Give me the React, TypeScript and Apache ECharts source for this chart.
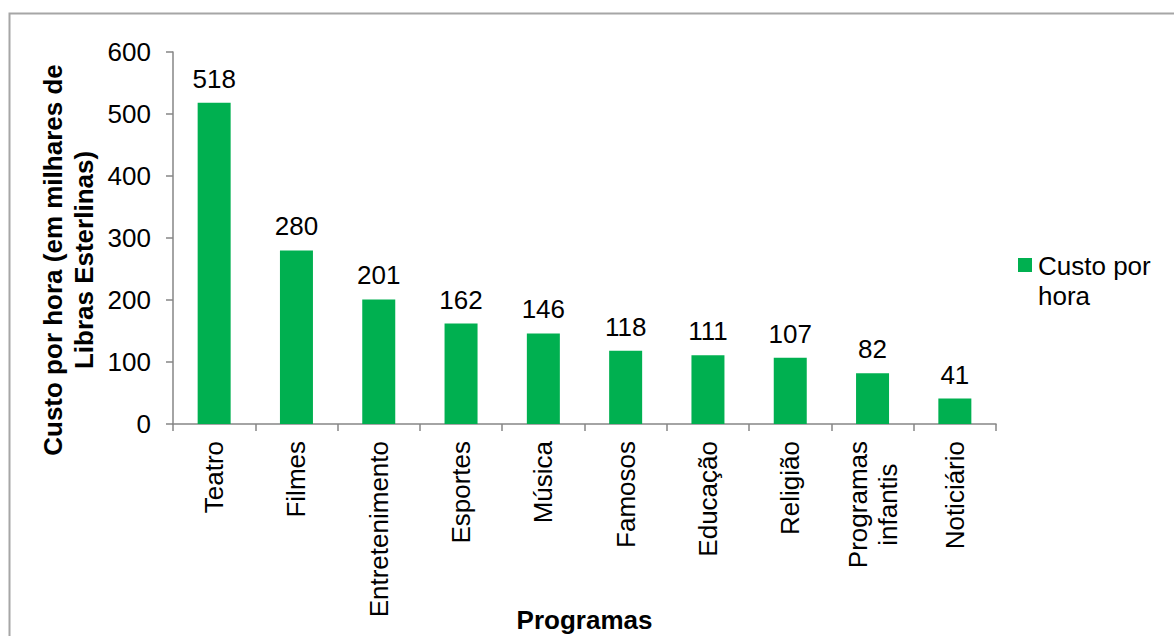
import React, { useEffect, useRef } from "react";
import * as echarts from "echarts";

const FONT = "'Liberation Sans', Arial, Helvetica, sans-serif";

const categories = [
  "Teatro",
  "Filmes",
  "Entretenimento",
  "Esportes",
  "Música",
  "Famosos",
  "Educação",
  "Religião",
  "Programas\ninfantis",
  "Noticiário",
];
const values = [518, 280, 201, 162, 146, 118, 111, 107, 82, 41];
const seriesName = "Custo por hora";
const legendLines = ["Custo por", "hora"];
const yTitle = ["Custo por hora (em milhares de", "Libras Esterlinas)"];
const xTitle = "Programas";

const GREEN = "#00b050";
const AXIS = "#868686";
const W = 1174;
const H = 636;

export default function App() {
  const ref = useRef<HTMLDivElement>(null);
  useEffect(() => {
    document.body.style.margin = "0";
    const chart = echarts.init(ref.current as HTMLDivElement, null, {
      renderer: "svg",
      width: W,
      height: H,
    });
    chart.setOption({
      animation: false,
      backgroundColor: "#ffffff",
      textStyle: { fontFamily: FONT },
      grid: {
        left: 173,
        right: 178,
        top: 52,
        bottom: 212,
        containLabel: false,
        outerBoundsMode: "none",
      },
      xAxis: {
        type: "category",
        data: categories,
        axisLine: { show: true, lineStyle: { color: AXIS, width: 1.5 } },
        axisTick: { show: true, length: 7, lineStyle: { color: AXIS, width: 1.5 } },
        axisLabel: {
          interval: 0,
          rotate: 90,
          margin: 17,
          fontSize: 26,
          lineHeight: 30,
          color: "#000",
          fontFamily: FONT,
          formatter: (v: string) =>
            v
              .split("\n")
              .map((s) => `{c|${s}}`)
              .join("\n"),
          rich: {
            c: { align: "center", fontSize: 26, lineHeight: 30, color: "#000", fontFamily: FONT },
          },
        },
        splitLine: { show: false },
      },
      yAxis: {
        type: "value",
        min: 0,
        max: 600,
        interval: 100,
        axisLine: { show: true, lineStyle: { color: AXIS, width: 1.5 } },
        axisTick: { show: true, length: 7, lineStyle: { color: AXIS, width: 1.5 } },
        axisLabel: { fontSize: 26, color: "#000", margin: 22, fontFamily: FONT },
        splitLine: { show: false },
      },
      series: [
        {
          name: seriesName,
          type: "bar",
          data: values,
          barWidth: 33,
          itemStyle: { color: GREEN },
          label: {
            show: true,
            position: "top",
            distance: 11,
            fontSize: 26,
            color: "#000",
            fontFamily: FONT,
          },
        },
      ],
      graphic: [
        {
          type: "rect",
          silent: true,
          z: -10,
          shape: { x: 9.5, y: 13.5, width: 1400, height: 900 },
          style: { fill: "none", stroke: "#a6a6a6", lineWidth: 2 },
        },
        {
          type: "text",
          x: 68,
          y: 260,
          rotation: Math.PI / 2,
          style: {
            text: yTitle.join("\n"),
            fontSize: 26,
            fontWeight: "bold",
            fontFamily: FONT,
            lineHeight: 31,
            fill: "#000",
            align: "center",
            verticalAlign: "middle",
          },
        },
        {
          type: "text",
          x: 584.5,
          y: 633,
          style: {
            text: xTitle,
            fontSize: 26,
            fontWeight: "bold",
            fontFamily: FONT,
            lineHeight: 26,
            fill: "#000",
            align: "center",
            verticalAlign: "bottom",
          },
        },
        {
          type: "rect",
          shape: { x: 1018, y: 258, width: 14, height: 14 },
          style: { fill: GREEN },
        },
        {
          type: "text",
          x: 1038,
          y: 251,
          style: {
            text: legendLines.join("\n"),
            fontSize: 26,
            fontFamily: FONT,
            lineHeight: 30,
            fill: "#000",
            align: "left",
            verticalAlign: "top",
          },
        },
      ],
    });
    return () => chart.dispose();
  }, []);
  return (
    <div
      ref={ref}
      style={{ position: "absolute", left: 0, top: 0, width: W, height: H, background: "#fff" }}
    />
  );
}
